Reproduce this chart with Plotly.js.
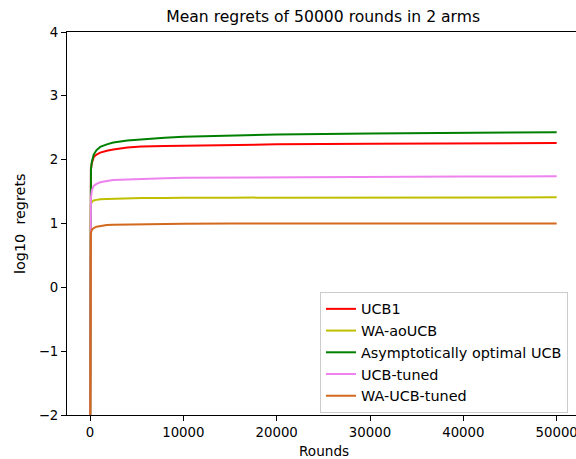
<!DOCTYPE html>
<html>
<head>
<meta charset="utf-8">
<script src="https://cdn.plot.ly/plotly-3.0.1.min.js"></script>
<style>html,body{margin:0;padding:0;background:#fff;}#chart{width:576px;height:459px;}</style>
</head>
<body>
<div id="chart"></div>
<script>
var rounds = [1, 30, 100, 200, 400, 700, 1100, 1800, 2500, 4000, 5500, 8000, 10000, 15000, 20000, 30000, 40000, 50000];
var ucb1 = [-3, 1.5, 1.85, 1.95, 2.04, 2.08, 2.11, 2.14, 2.16, 2.19, 2.205, 2.215, 2.22, 2.235, 2.24, 2.25, 2.255, 2.26];
var waAoUcb = [-3, 1.0, 1.3, 1.34, 1.36, 1.37, 1.38, 1.385, 1.39, 1.395, 1.40, 1.40, 1.405, 1.405, 1.405, 1.41, 1.41, 1.41];
var asymOptUcb = [-3, 1.5, 1.85, 1.97, 2.08, 2.15, 2.20, 2.24, 2.27, 2.30, 2.32, 2.345, 2.36, 2.38, 2.395, 2.41, 2.42, 2.43];
var ucbTuned = [-3, 1.0, 1.4, 1.52, 1.59, 1.62, 1.645, 1.665, 1.68, 1.69, 1.70, 1.71, 1.715, 1.72, 1.725, 1.73, 1.735, 1.74];
var waUcbTuned = [-3, 0.6, 0.85, 0.9, 0.93, 0.95, 0.96, 0.975, 0.98, 0.985, 0.99, 0.99, 0.995, 1.0, 1.0, 1.0, 1.0, 1.0];
var names = ["UCB1", "WA-aoUCB", "Asymptotically optimal UCB", "UCB-tuned", "WA-UCB-tuned"];
var series = [ucb1, waAoUcb, asymOptUcb, ucbTuned, waUcbTuned];
var colors = ["#ff0000", "#bfbf00", "#008000", "#ee82ee", "#d2691e"];
var xTicks = [0, 10000, 20000, 30000, 40000, 50000];
var yTicks = [-2, -1, 0, 1, 2, 3, 4];

var traces = series.map(function (s, i) {
  return {x: rounds, y: s, type: "scatter", mode: "lines", name: names[i],
          line: {color: colors[i], width: 2}};
});

var fam = "DejaVu Sans, sans-serif";
var font = {family: fam, size: 13.3, color: "#000"};
var layout = {
  width: 576, height: 459,
  margin: {l: 67, r: 0, t: 32, b: 44},
  paper_bgcolor: "#fff", plot_bgcolor: "#fff",
  font: font,
  showlegend: true,
  title: {text: "Mean regrets of 50000 rounds in 2 arms", font: {family: fam, size: 15.6, color: "#000"},
          xref: "container", yref: "container", x: 0.561, xanchor: "center", y: 1 - 17/459, yanchor: "middle"},
  xaxis: {range: [-2464, 52072], tickvals: xTicks, ticktext: xTicks.map(String),
          showgrid: false, zeroline: false, showline: true, linecolor: "#000", linewidth: 1, mirror: true,
          ticks: "outside", ticklen: 5, tickwidth: 1, tickcolor: "#000", tickfont: font,
          ticklabeloverflow: "allow"},
  yaxis: {range: [-2, 4], tickvals: yTicks,
          showgrid: false, zeroline: false, showline: true, linecolor: "#000", linewidth: 1,
          ticks: "outside", ticklen: 5, tickwidth: 1, tickcolor: "#000", tickfont: font},
  annotations: [
    {text: "Rounds", xref: "paper", yref: "paper", x: (323.5 - 67) / 509, y: 0, xanchor: "center", yanchor: "middle",
     yshift: -36, showarrow: false, font: {family: fam, size: 13.6, color: "#000"}},
    {text: "log10\u00a0\u00a0regrets", xref: "paper", yref: "paper", x: 0, y: (415 - 224) / 383, xanchor: "center", yanchor: "middle",
     xshift: -47, textangle: -90, showarrow: false, font: {family: fam, size: 14.4, color: "#000"}}
  ],
  legend: {x: 0.497, y: (415 - 292) / 383, xanchor: "left", yanchor: "top", bgcolor: "rgba(255,255,255,0.8)",
           bordercolor: "#cccccc", borderwidth: 1, font: {family: fam, size: 14.4, color: "#000"}, tracegroupgap: 0}
};
Plotly.newPlot("chart", traces, layout, {displayModeBar: false, staticPlot: true});
</script>
</body>
</html>
